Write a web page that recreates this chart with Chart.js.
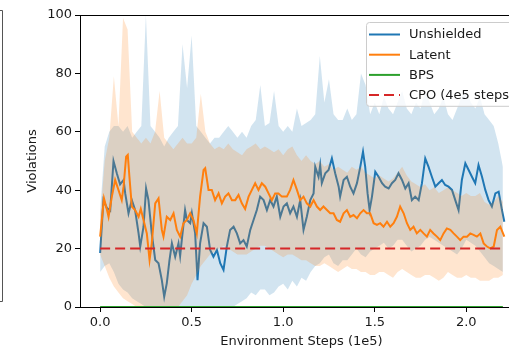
<!DOCTYPE html>
<html>
<head>
<meta charset="utf-8">
<script src="https://cdn.jsdelivr.net/npm/chart.js@4.4.0/dist/chart.umd.min.js"></script>
<style>
  html, body { margin: 0; padding: 0; background: #fff; overflow: hidden; }
  canvas { display: block; }
</style>
</head>
<body>
<canvas id="chart" width="530" height="349"></canvas>
<script>
// Tick labels
const XTICKS = [0, 0.5, 1.0, 1.5, 2.0];
const YTICKS = [0, 20, 40, 60, 80, 100];

// Unshielded mean (steps in 1e5, violations)
const UNSH_X = [0, 0.018, 0.036, 0.055, 0.073, 0.091, 0.109, 0.128, 0.137, 0.155,
  0.173, 0.191, 0.210, 0.219, 0.237, 0.251, 0.264, 0.282, 0.301, 0.319,
  0.337, 0.350, 0.364, 0.379, 0.392, 0.410, 0.428, 0.437, 0.446, 0.464,
  0.474, 0.492, 0.501, 0.519, 0.532, 0.546, 0.565, 0.583, 0.601, 0.619,
  0.638, 0.656, 0.674, 0.692, 0.710, 0.729, 0.747, 0.765, 0.783, 0.801,
  0.820, 0.838, 0.856, 0.874, 0.893, 0.911, 0.929, 0.947, 0.965, 0.984,
  1.002, 1.020, 1.038, 1.056, 1.075, 1.093, 1.111, 1.129, 1.148, 1.166,
  1.175, 1.193, 1.202, 1.211, 1.230, 1.248, 1.266, 1.284, 1.303, 1.311,
  1.330, 1.348, 1.366, 1.384, 1.403, 1.421, 1.436, 1.448, 1.461, 1.472,
  1.485, 1.503, 1.521, 1.540, 1.557, 1.576, 1.594, 1.612, 1.630, 1.649,
  1.667, 1.685, 1.703, 1.721, 1.740, 1.758, 1.776, 1.794, 1.812, 1.831,
  1.849, 1.867, 1.885, 1.903, 1.922, 1.940, 1.958, 1.976, 1.995, 2.013,
  2.031, 2.049, 2.067, 2.086, 2.104, 2.122, 2.140, 2.159, 2.177, 2.195, 2.208];
const UNSH_Y = [18.5, 36.6, 34, 33, 50, 45.8, 42, 43.5, 38.9, 32.1,
  36.6, 33.2, 25.2, 20.7, 27.5, 40.6, 36.6, 25.2, 16.1, 15,
  9.2, 3.5, 8.1, 16.1, 21.8, 17.2, 21.8, 17.5, 22.9, 33.2,
  29.8, 28.7, 32.1, 25.2, 9.2, 21.8, 28.7, 27.5, 19.5, 17.2,
  19.5, 15, 12.7, 20.7, 26.4, 27.5, 25.2, 21.8, 22.9, 20.7,
  26.4, 29.8, 33.2, 37.8, 36.6, 33.2, 36.6, 34.4, 37.8, 30.9,
  34.4, 35.5, 32.1, 34.4, 30.9, 36.6, 26.4, 30.9, 36.6, 38.9,
  48, 44.6, 48.6, 42.4, 45.8, 46.9, 50.9, 45.8, 41.2, 37.8,
  43.5, 44.6, 41.2, 38.9, 42.4, 48, 53.2, 48, 38.9, 33.2,
  37.8, 46.3, 44.6, 42.4, 41.2, 40.6, 42.4, 43.5, 45.8, 43.5,
  40.6, 42.4, 36.6, 37.8, 36.6, 42.4, 50.9, 48, 44.6, 41.2,
  42.4, 43.5, 41.8, 41.2, 40.1, 36.6, 33.2, 43.5, 49.2, 46.9,
  44.6, 42.4, 48.6, 44.6, 40.1, 36.6, 34.4, 38.9, 39.5, 33.2, 29.2];

// Latent mean
const LAT_X = [0, 0.021, 0.036, 0.046, 0.064, 0.082, 0.100, 0.118, 0.128, 0.142,
  0.151, 0.160, 0.173, 0.191, 0.210, 0.222, 0.237, 0.255, 0.270, 0.282,
  0.301, 0.319, 0.337, 0.346, 0.364, 0.383, 0.401, 0.419, 0.437, 0.455,
  0.474, 0.492, 0.510, 0.528, 0.546, 0.565, 0.574, 0.592, 0.610, 0.628,
  0.647, 0.665, 0.683, 0.701, 0.720, 0.738, 0.756, 0.774, 0.792, 0.811,
  0.829, 0.847, 0.865, 0.883, 0.902, 0.920, 0.938, 0.956, 0.974, 0.993,
  1.020, 1.038, 1.056, 1.075, 1.093, 1.111, 1.129, 1.148, 1.166, 1.184,
  1.202, 1.220, 1.239, 1.257, 1.275, 1.293, 1.311, 1.330, 1.348, 1.366,
  1.384, 1.403, 1.421, 1.439, 1.457, 1.475, 1.494, 1.512, 1.530, 1.548,
  1.567, 1.585, 1.603, 1.621, 1.639, 1.658, 1.676, 1.694, 1.712, 1.730,
  1.749, 1.767, 1.785, 1.803, 1.821, 1.840, 1.858, 1.876, 1.894, 1.913,
  1.931, 1.949, 1.967, 1.985, 2.004, 2.022, 2.040, 2.058, 2.077, 2.095,
  2.113, 2.131, 2.150, 2.168, 2.186, 2.208];
const LAT_Y = [24.1, 37.2, 33.6, 30.9, 37.8, 43.5, 40.1, 36.6, 41.2, 51.5,
  52.1, 44.6, 34.4, 33.2, 30.9, 33.6, 29.8, 25.2, 16.1, 21.8,
  35.5, 37.2, 26.4, 24.1, 30.9, 29.8, 32.1, 26.4, 24.1, 28.7,
  29.8, 32.1, 29.8, 25.2, 37.8, 46.9, 47.5, 40.1, 40.1, 36.6,
  38.9, 35.5, 37.8, 38.9, 36.6, 36.6, 38.4, 35.5, 33.6, 37.8,
  40.1, 42.4, 40.1, 42.4, 41.2, 38.9, 36.6, 38.9, 38.9, 37.8,
  37.8, 40.1, 43.5, 40.1, 36.6, 37.8, 35.5, 34.4, 36.6, 34.4,
  33.2, 34.4, 33.2, 32.1, 32.1, 29.8, 29.2, 32.1, 33.2, 30.9,
  31.5, 30.4, 32.1, 33.2, 32.1, 32.1, 28.7, 28.1, 28.7, 27.5,
  29.2, 27.5, 28.7, 30.9, 34.4, 32.1, 28.7, 26.4, 27.5, 25.2,
  26.4, 25.2, 24.1, 26.4, 25.2, 24.1, 22.9, 25.2, 26.9, 26.4,
  25.2, 24.1, 22.9, 24.1, 24.1, 25.2, 24.7, 24.1, 25.2, 21.8,
  20.7, 20.1, 20.7, 26.4, 27.5, 24.1];

// Shaded spread around each mean
const BAND_X = [0, 0.025, 0.05, 0.075, 0.1, 0.125, 0.15, 0.175, 0.2, 0.225,
  0.25, 0.275, 0.3, 0.325, 0.35, 0.375, 0.4, 0.425, 0.45, 0.475,
  0.5, 0.525, 0.55, 0.575, 0.6, 0.625, 0.65, 0.675, 0.7, 0.725,
  0.75, 0.775, 0.8, 0.825, 0.85, 0.875, 0.9, 0.925, 0.95, 0.975,
  1.0, 1.025, 1.05, 1.075, 1.1, 1.125, 1.15, 1.175, 1.2, 1.225,
  1.25, 1.275, 1.3, 1.325, 1.35, 1.375, 1.4, 1.425, 1.45, 1.475,
  1.5, 1.525, 1.55, 1.575, 1.6, 1.625, 1.65, 1.675, 1.7, 1.725,
  1.75, 1.775, 1.8, 1.825, 1.85, 1.875, 1.9, 1.925, 1.95, 1.975,
  2.0, 2.025, 2.05, 2.075, 2.1, 2.125, 2.15, 2.175, 2.2];
const UNSH_HI = [33, 55, 60, 62, 62, 60, 62, 58, 60, 62,
  100, 62, 60, 58, 55, 58, 60, 62, 90, 75,
  93, 62, 60, 58, 56, 58, 58, 60, 62, 60,
  58, 60, 58, 62, 64, 76, 62, 63, 74, 62,
  60, 62, 60, 68, 62, 63, 64, 66, 86, 70,
  78, 66, 64, 64, 68, 64, 66, 80, 76, 66,
  70, 66, 72, 68, 66, 70, 74, 68, 66, 70,
  68, 74, 70, 66, 68, 72, 66, 64, 68, 72,
  74, 70, 68, 72, 66, 64, 62, 56, 48];
const UNSH_LO = [12, 14, 15, 12, 8, 6, 5, 3, 2, 1,
  0, 0, 0, 0, 0, 0, 0, 0, 0, 0,
  0, 0, 0, 0, 0, 0, 0, 0, 0, 0,
  1, 2, 3, 5, 4, 6, 6, 4, 5, 7,
  8, 6, 9, 7, 10, 9, 12, 14, 15, 17,
  18, 15, 14, 16, 16, 18, 20, 18, 17, 19,
  20, 21, 22, 20, 21, 23, 23, 21, 19, 20,
  21, 23, 24, 23, 22, 21, 20, 19, 18, 20,
  23, 22, 21, 19, 17, 15, 14, 13, 12];
const LAT_HI = [30, 50, 58, 79, 62, 99, 95, 60, 58, 56,
  58, 56, 60, 74, 58, 56, 54, 56, 58, 56,
  56, 58, 73, 60, 56, 54, 55, 54, 56, 54,
  53, 52, 54, 55, 56, 54, 55, 54, 53, 54,
  52, 54, 55, 52, 50, 52, 50, 49, 50, 48,
  49, 47, 48, 47, 46, 48, 47, 48, 46, 45,
  44, 45, 44, 43, 44, 46, 48, 45, 43, 42,
  41, 42, 40, 41, 39, 40, 41, 40, 39, 38,
  39, 38, 38, 39, 36, 35, 36, 38, 36];
const LAT_LO = [18, 14, 10, 7, 5, 3, 2, 1, 0, 0,
  0, 0, 0, 0, 0, 0, 0, 0, 2, 4,
  8, 11, 14, 16, 18, 19, 20, 21, 20, 19,
  18, 18, 18, 19, 20, 21, 21, 20, 19, 18,
  17, 18, 18, 17, 16, 16, 15, 14, 14, 15,
  14, 13, 12, 13, 14, 13, 13, 12, 12, 11,
  11, 12, 12, 11, 10, 12, 13, 12, 11, 10,
  10, 11, 11, 10, 9, 10, 12, 11, 10, 10,
  11, 10, 10, 9, 9, 9, 10, 10, 11];

// Baselines
const BPS_X = [0, 2.2];
const BPS_Y = [0, 0];
const CPO_X = [0, 2.2];
const CPO_Y = [20, 20];

const FONT = { family: 'DejaVu Sans', size: 13 };
const TEXT = '#1a1a1a';

function pts(xs, ys) {
    return xs.map((x, i) => ({ x: x, y: ys[i] }));
}

// Invisible edge of a shaded band
function bandEdge(ys, color, fill, order) {
    return {
        data: pts(BAND_X, ys),
        borderWidth: 0,
        borderColor: 'rgba(0,0,0,0)',
        backgroundColor: color,
        pointRadius: 0,
        fill: fill,
        order: order
    };
}

// Visible series line
function seriesLine(label, xs, ys, color, order, dash) {
    return {
        label: label,
        inLegend: true,
        data: pts(xs, ys),
        borderColor: color,
        borderWidth: 2,
        borderDash: dash || [],
        pointRadius: 0,
        tension: 0,
        fill: false,
        order: order
    };
}

// Top/right spines and the edge of the neighbouring panel
const framePlugin = {
    id: 'frame',
    afterDraw(chart) {
        const { ctx, chartArea: a } = chart;
        ctx.save();
        ctx.strokeStyle = '#000';
        ctx.lineWidth = 1;
        ctx.beginPath();
        ctx.moveTo(a.left, Math.round(a.top) + 0.5);
        ctx.lineTo(a.right, Math.round(a.top) + 0.5);
        ctx.moveTo(Math.round(a.right) + 0.5, a.top);
        ctx.lineTo(Math.round(a.right) + 0.5, a.bottom);
        ctx.stroke();
        ctx.strokeStyle = '#555';
        ctx.beginPath();
        ctx.moveTo(0, 10.5);
        ctx.lineTo(2.5, 10.5);
        ctx.lineTo(2.5, 301.5);
        ctx.lineTo(0, 301.5);
        ctx.stroke();
        ctx.restore();
    }
};

// Matplotlib-like framed legend in the upper right
const legendPlugin = {
    id: 'boxLegend',
    afterDatasetsDraw(chart) {
        const ctx = chart.ctx;
        const items = chart.data.datasets.filter(d => d.inLegend);
        const left = 366, top = 22, width = 152, rowH = 20.2;
        const height = items.length * rowH + 3;
        ctx.save();
        ctx.beginPath();
        ctx.roundRect(left + 0.5, top + 0.5, width, height, 3);
        ctx.fillStyle = 'rgba(255,255,255,0.8)';
        ctx.fill();
        ctx.strokeStyle = '#cccccc';
        ctx.lineWidth = 1;
        ctx.stroke();
        ctx.font = FONT.size + 'px "' + FONT.family + '"';
        ctx.textBaseline = 'middle';
        items.forEach((d, i) => {
            const y = top + 12.5 + i * rowH;
            ctx.strokeStyle = d.borderColor;
            ctx.lineWidth = 2;
            ctx.setLineDash(d.borderDash);
            ctx.beginPath();
            ctx.moveTo(369, y);
            ctx.lineTo(400, y);
            ctx.stroke();
            ctx.setLineDash([]);
            ctx.fillStyle = TEXT;
            ctx.fillText(d.label, 409, y + 0.5);
        });
        ctx.restore();
    }
};

const ctx = document.getElementById('chart').getContext('2d');
new Chart(ctx, {
    type: 'line',
    data: {
        datasets: [
            bandEdge(UNSH_HI, 'rgba(31,119,180,0.2)', '+1', 9),
            bandEdge(UNSH_LO, 'rgba(31,119,180,0.2)', false, 9),
            seriesLine('Unshielded', UNSH_X, UNSH_Y, '#1f77b4', 7),
            bandEdge(LAT_HI, 'rgba(255,127,14,0.2)', '+1', 6),
            bandEdge(LAT_LO, 'rgba(255,127,14,0.2)', false, 6),
            seriesLine('Latent', LAT_X, LAT_Y, '#ff7f0e', 4),
            seriesLine('BPS', BPS_X, BPS_Y, '#2ca02c', 3),
            seriesLine('CPO (4e5 steps)', CPO_X, CPO_Y, '#d62728', 2, [10, 5])
        ]
    },
    options: {
        responsive: false,
        animation: false,
        events: [],
        layout: { padding: { left: 0, top: 15, right: 7, bottom: 0 } },
        scales: {
            x: {
                type: 'linear',
                min: -0.11,
                max: 2.31,
                afterBuildTicks: s => { s.ticks = XTICKS.map(v => ({ value: v })); },
                afterFit: s => { s.height = 42; },
                ticks: { font: FONT, color: TEXT, padding: 3, maxRotation: 0,
                    callback: v => v.toFixed(1) },
                grid: { drawOnChartArea: false, drawTicks: true, tickLength: 5, color: '#000' },
                border: { display: true, color: '#000', width: 1 },
                title: { display: true, text: 'Environment Steps (1e5)', font: FONT, color: TEXT,
                    padding: { top: 0, bottom: 0 } }
            },
            y: {
                min: 0,
                max: 100,
                afterBuildTicks: s => { s.ticks = YTICKS.map(v => ({ value: v })); },
                afterFit: s => { s.width = 80; },
                ticks: { font: FONT, color: TEXT, padding: 3 },
                grid: { drawOnChartArea: false, drawTicks: true, tickLength: 5, color: '#000' },
                border: { display: true, color: '#000', width: 1 },
                title: { display: true, text: 'Violations', font: FONT, color: TEXT,
                    padding: { top: 25, bottom: 0 } }
            }
        },
        plugins: {
            legend: { display: false },
            tooltip: { enabled: false }
        }
    },
    plugins: [framePlugin, legendPlugin]
});
</script>
</body>
</html>
